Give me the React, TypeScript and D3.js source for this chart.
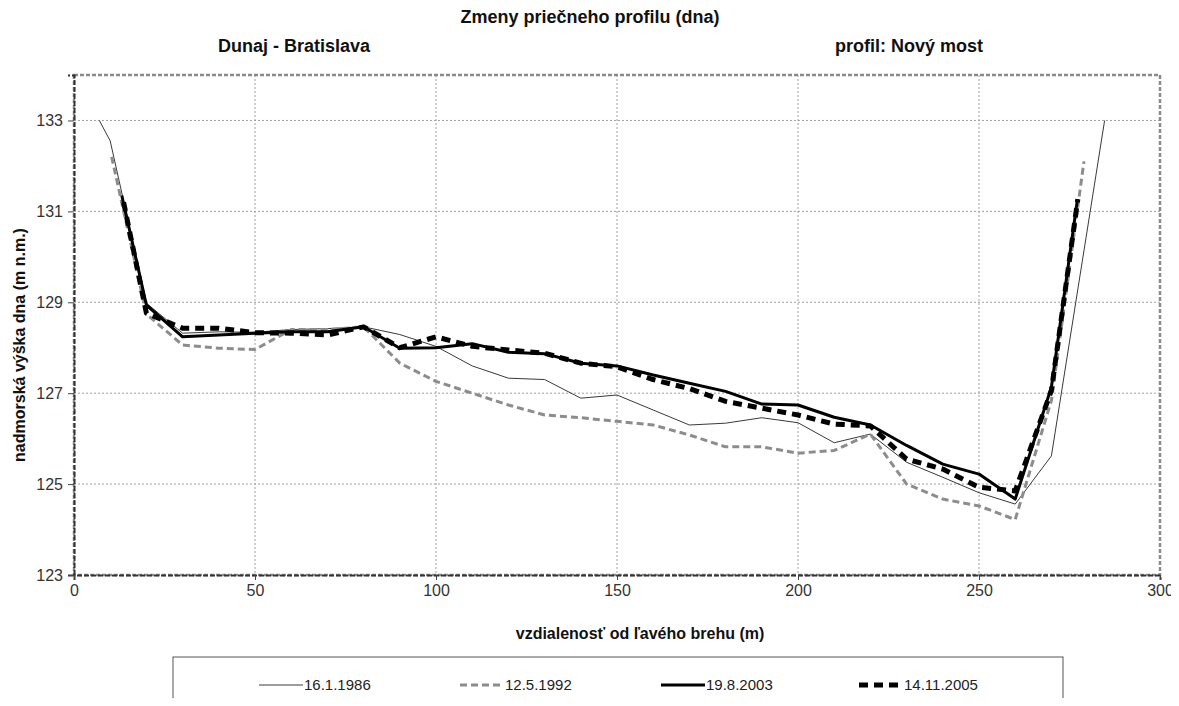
import React, { useEffect, useRef } from "react";
import * as d3 from "d3";

// distance from left bank (m) and bed elevation (m n.m.) per survey
const dist1986 = [7, 10, 20, 30, 40, 50, 60, 70, 80, 90, 100, 110, 120, 130, 140, 150, 160, 170, 180, 190, 200, 210, 220, 230, 240, 250, 260, 270, 284.7];
const elev1986 = [133, 132.55, 128.98, 128.32, 128.35, 128.34, 128.4, 128.42, 128.46, 128.29, 128.03, 127.6, 127.33, 127.3, 126.89, 126.96, 126.63, 126.3, 126.34, 126.46, 126.35, 125.91, 126.1, 125.48, 125.15, 124.81, 124.56, 125.62, 133];

const dist1992 = [10.4, 20, 30, 40, 50, 60, 70, 80, 90, 100, 110, 120, 130, 140, 150, 160, 170, 180, 190, 200, 210, 220, 230, 240, 250, 260, 270, 279];
const elev1992 = [132.2, 128.74, 128.06, 127.99, 127.96, 128.4, 128.4, 128.46, 127.66, 127.26, 127.0, 126.74, 126.52, 126.46, 126.38, 126.3, 126.08, 125.82, 125.82, 125.68, 125.74, 126.1, 125.0, 124.67, 124.52, 124.22, 126.84, 132.1];

const dist2003 = [13.2, 20, 30, 40, 50, 60, 70, 80, 90, 100, 110, 120, 130, 140, 150, 160, 170, 180, 190, 200, 210, 220, 230, 240, 250, 260, 270, 277.2];
const elev2003 = [131.35, 128.94, 128.24, 128.28, 128.32, 128.35, 128.35, 128.46, 127.99, 128.0, 128.09, 127.9, 127.87, 127.66, 127.6, 127.4, 127.22, 127.04, 126.76, 126.74, 126.47, 126.3, 125.85, 125.44, 125.22, 124.67, 127.13, 131.27];

const dist2005 = [13.7, 20, 30, 40, 50, 60, 70, 80, 90, 100, 110, 120, 130, 140, 150, 160, 170, 180, 190, 200, 210, 220, 230, 240, 250, 260, 270, 277.3];
const elev2005 = [131.2, 128.76, 128.43, 128.43, 128.33, 128.32, 128.28, 128.46, 128.0, 128.24, 128.03, 127.95, 127.88, 127.66, 127.58, 127.3, 127.1, 126.82, 126.67, 126.52, 126.32, 126.28, 125.55, 125.33, 124.93, 124.85, 127.06, 131.27];

const xTicks = [0, 50, 100, 150, 200, 250, 300];
const yTicks = [123, 125, 127, 129, 131, 133];

const seriesLabels = ["16.1.1986", "12.5.1992", "19.8.2003", "14.11.2005"];

const FONT = "'Liberation Sans', Arial, sans-serif";

const App = () => {
  const svgRef = useRef<SVGSVGElement>(null);

  useEffect(() => {
    const width = 1179;
    const height = 706;
    const margin = { top: 75, right: 19, bottom: 131, left: 74 };

    const svg = d3.select(svgRef.current).attr("viewBox", `0 0 ${width} ${height}`);
    svg.selectAll("*").remove();

    const x = d3.scaleLinear().domain([0, 300]).range([margin.left, width - margin.right]);
    const y = d3.scaleLinear().domain([123, 134]).range([height - margin.bottom, margin.top]);

    const styles = [
      { width: 1, color: "#3a3a3a", dash: null },
      { width: 3, color: "#8c8c8c", dash: "7,4" },
      { width: 3, color: "#000", dash: null },
      { width: 5, color: "#000", dash: "9,6" },
    ];
    const series = [
      d3.zip(dist1986, elev1986),
      d3.zip(dist1992, elev1992),
      d3.zip(dist2003, elev2003),
      d3.zip(dist2005, elev2005),
    ];

    // grid
    svg
      .append("g")
      .selectAll("line")
      .data(xTicks.slice(1, -1))
      .join("line")
      .attr("x1", (d) => x(d))
      .attr("x2", (d) => x(d))
      .attr("y1", y(134))
      .attr("y2", y(123))
      .attr("stroke", "#a0a0a0")
      .attr("stroke-dasharray", "2,2");
    svg
      .append("g")
      .selectAll("line")
      .data(yTicks.slice(1))
      .join("line")
      .attr("x1", x(0))
      .attr("x2", x(300))
      .attr("y1", (d) => y(d))
      .attr("y2", (d) => y(d))
      .attr("stroke", "#a0a0a0")
      .attr("stroke-dasharray", "2,2");

    // plot border
    svg
      .append("rect")
      .attr("x", x(0))
      .attr("y", y(134))
      .attr("width", x(300) - x(0))
      .attr("height", y(123) - y(134))
      .attr("fill", "none")
      .attr("stroke", "#8a8a8a")
      .attr("stroke-width", 2.5)
      .attr("stroke-dasharray", "4,2");

    // axes
    const yAxis = svg
      .append("g")
      .attr("transform", `translate(${x(0)},0)`)
      .call(d3.axisLeft(y).tickValues(yTicks).tickSize(6).tickPadding(5));
    yAxis.select(".domain").attr("stroke", "#333").attr("stroke-width", 2).attr("stroke-dasharray", "5,2");
    yAxis.selectAll(".tick line").attr("stroke", "#444");
    yAxis.selectAll("text").attr("fill", "#333").style("font-family", FONT).style("font-size", "16px");

    const xAxis = svg
      .append("g")
      .attr("transform", `translate(0,${y(123)})`)
      .call(d3.axisBottom(x).tickValues(xTicks).tickSize(5).tickPadding(5));
    xAxis.select(".domain").attr("stroke", "#333").attr("stroke-width", 2).attr("stroke-dasharray", "5,2");
    xAxis.selectAll(".tick line").attr("stroke", "#444");
    xAxis.selectAll("text").attr("fill", "#333").style("font-family", FONT).style("font-size", "16px");

    // lines
    const line = d3
      .line<[number, number]>()
      .x((d) => x(d[0]))
      .y((d) => y(d[1]));

    series.forEach((s, i) => {
      const st = styles[i];
      svg
        .append("path")
        .datum(s as [number, number][])
        .attr("fill", "none")
        .attr("stroke", st.color)
        .attr("stroke-width", st.width)
        .attr("stroke-linejoin", "round")
        .attr("stroke-dasharray", st.dash)
        .attr("d", line);
    });

    // titles
    const text = (tx, ty, str, size, anchor = "middle") =>
      svg
        .append("text")
        .attr("x", tx)
        .attr("y", ty)
        .attr("text-anchor", anchor)
        .attr("fill", "#111")
        .style("font-family", FONT)
        .style("font-weight", "bold")
        .style("font-size", `${size}px`)
        .text(str);

    text(590, 23, "Zmeny priečneho profilu (dna)", 18);
    text(218, 52, "Dunaj - Bratislava", 18, "start");
    text(835, 52, "profil: Nový most", 18, "start");
    text(640, 639, "vzdialenosť od ľavého brehu (m)", 16);
    text(0, 0, "nadmorská výška dna (m n.m.)", 16).attr(
      "transform",
      `translate(25,345) rotate(-90)`
    );

    // legend
    const lg = svg.append("g");
    lg.append("rect")
      .attr("x", 173)
      .attr("y", 657)
      .attr("width", 890)
      .attr("height", 70)
      .attr("fill", "#fff")
      .attr("stroke", "#555")
      .attr("stroke-width", 1);

    const legendX = [259, 460, 661, 859];
    seriesLabels.forEach((lab, i) => {
      const st = styles[i];
      lg.append("line")
        .attr("x1", legendX[i])
        .attr("x2", legendX[i] + 44)
        .attr("y1", 685)
        .attr("y2", 685)
        .attr("stroke", st.color)
        .attr("stroke-width", st.width)
        .attr("stroke-dasharray", st.dash);
      lg.append("text")
        .attr("x", legendX[i] + 45)
        .attr("y", 690)
        .attr("fill", "#222")
        .style("font-family", FONT)
        .style("font-size", "15px")
        .text(lab);
    });
  }, []);

  return (
    <div style={{ margin: -8 }}>
      <svg ref={svgRef} width={1179} height={706} style={{ display: "block", background: "#fff" }} />
    </div>
  );
};

export default App;
